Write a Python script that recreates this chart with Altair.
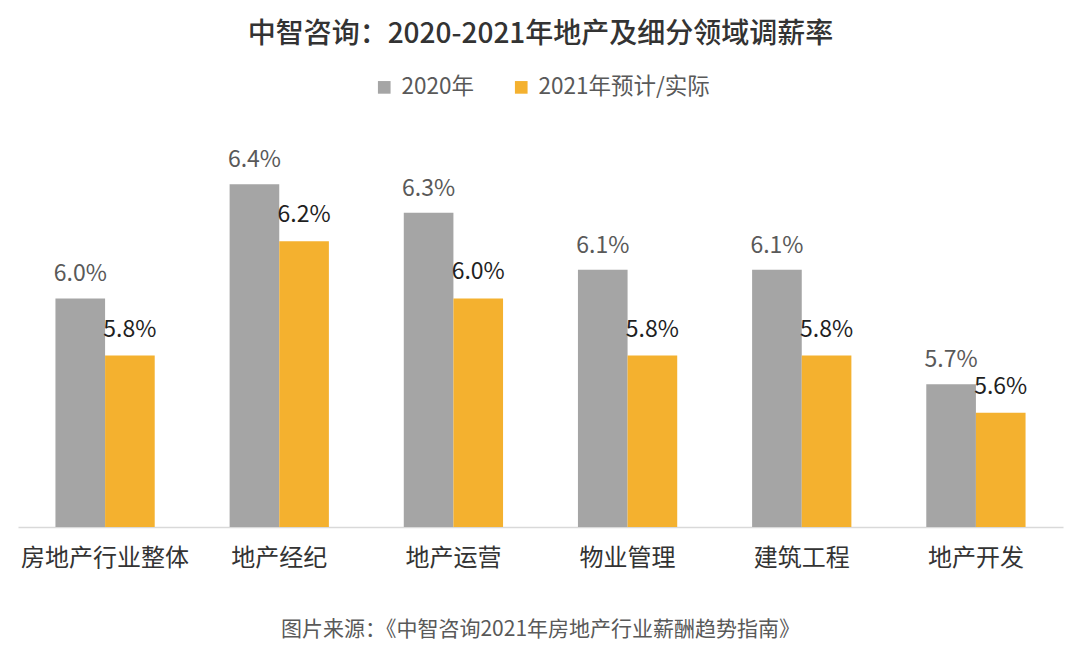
import altair as alt
import pandas as pd

categories = ["房地产行业整体", "地产经纪", "地产运营", "物业管理", "建筑工程", "地产开发"]
series_names = ["2020年", "2021年预计/实际"]
values_2020 = [6.0, 6.4, 6.3, 6.1, 6.1, 5.7]
values_2021 = [5.8, 6.2, 6.0, 5.8, 5.8, 5.6]
colors = ["#A5A5A5", "#F4B12F"]
title_text = "中智咨询：2020-2021年地产及细分领域调薪率"
source_text = "图片来源：《中智咨询2021年房地产行业薪酬趋势指南》"

rows = []
for c, a, b in zip(categories, values_2020, values_2021):
    rows.append({"category": c, "series": series_names[0], "value": a, "label": f"{a:.1f}%"})
    rows.append({"category": c, "series": series_names[1], "value": b, "label": f"{b:.1f}%"})
df = pd.DataFrame(rows)

FONT = "Noto Sans CJK SC"
W, H = 1045, 400

x = alt.X(
    "category:N", sort=categories,
    scale=alt.Scale(paddingInner=0.43, paddingOuter=0.215),
    axis=alt.Axis(title=None, labelAngle=0, labelFontSize=24, labelColor="#333333",
                  labelFont=FONT, labelPadding=19, ticks=False, domainColor="#D9D9D9",
                  domainWidth=1.5, grid=False),
)
xo = alt.XOffset("series:N", sort=series_names, scale=alt.Scale(paddingInner=0, paddingOuter=0))
y = alt.Y("value:Q", scale=alt.Scale(domain=[5.2, 6.6], zero=False, nice=False), axis=None)

base = alt.Chart(df)

bars = base.mark_bar().encode(
    x=x, xOffset=xo, y=y, y2=alt.datum(5.2),
    color=alt.Color(
        "series:N", sort=series_names,
        scale=alt.Scale(domain=series_names, range=colors),
        legend=alt.Legend(title=None, orient="none", legendX=355, legendY=-51,
                          direction="horizontal", symbolType="square", symbolSize=160,
                          symbolStrokeWidth=0, labelFontSize=22.5, labelFont=FONT,
                          labelColor="#595959", labelOffset=6, columnPadding=36,
                          labelLimit=400),
    ),
)

labels_a = base.transform_filter(alt.datum.series == series_names[0]).mark_text(
    baseline="alphabetic", dy=-17, fontSize=23, font=FONT, color="#595959"
).encode(x=x, xOffset=xo, y=y, text="label:N")

labels_b = base.transform_filter(alt.datum.series == series_names[1]).mark_text(
    baseline="alphabetic", dy=-19, fontSize=23, font=FONT, color="#1F1F1F"
).encode(x=x, xOffset=xo, y=y, text="label:N")

title = alt.Chart(pd.DataFrame({"t": [title_text]})).mark_text(
    fontSize=28, font=FONT, color="#333333", fontWeight=500, baseline="middle", align="center"
).encode(text="t:N", x=alt.value(W / 2), y=alt.value(-92))

source = alt.Chart(pd.DataFrame({"t": [source_text]})).mark_text(
    fontSize=21, font=FONT, color="#595959", baseline="middle", align="center"
).encode(text="t:N", x=alt.value(W / 2), y=alt.value(503))

chart = alt.layer(bars, labels_a, labels_b, title, source).properties(
    width=W, height=H,
    autosize=alt.AutoSizeParams(type="none"),
    padding={"left": 10, "top": 119, "right": 9, "bottom": 119},
    background="white",
).configure_view(stroke=None)

chart.save("out.html", embed_options={"renderer": "svg", "actions": False})
